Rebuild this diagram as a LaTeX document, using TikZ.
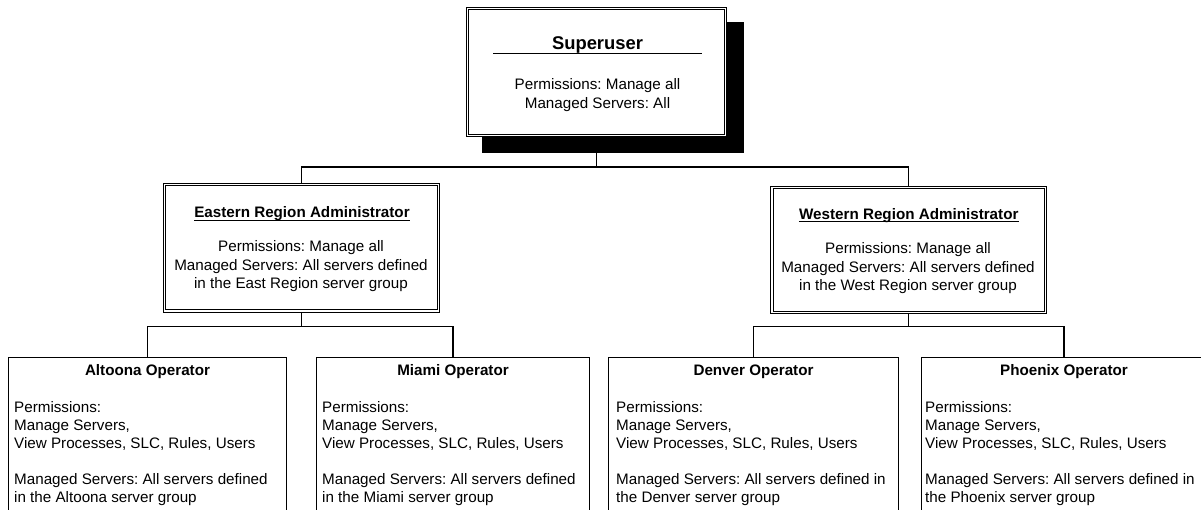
\documentclass[tikz,border=0pt]{standalone}
\usepackage{fontspec}
\setmainfont{Liberation Sans}
\frenchspacing
\begin{document}
\frenchspacing
\begin{tikzpicture}[x=1pt,y=-1pt,
  dbox/.style={draw, double, double distance=1.6pt, line width=0.8pt, fill=white, inner sep=0pt},
  shadowbox/.style={fill=black, draw=none, inner sep=0pt},
  opbox/.style={draw=none, inner sep=0pt},
  conn/.style={line width=1.2pt},
  side/.style={line width=0.9pt},
  uline/.style={line width=1pt},
  bigttl/.style={font=\fontsize{18.4}{22}\selectfont\bfseries, inner sep=0pt, anchor=base},
  ttl/.style={font=\fontsize{15.2}{19}\selectfont\bfseries, inner sep=0pt, anchor=base},
  body/.style={align=center, inner sep=0pt, anchor=north, font=\fontsize{15.2}{19}\selectfont},
  regbody/.style={align=center, inner sep=0pt, anchor=north, font=\fontsize{15.2}{18.5}\selectfont},
  opbody/.style={align=left, inner sep=0pt, anchor=north west, font=\fontsize{15.2}{17.9}\selectfont},
]
\useasboundingbox (0,0) rectangle (1201,510);

% superuser with shadow
\node[shadowbox, minimum width=262pt, minimum height=131pt] (sh) at (613,87.5) {};
\node[dbox, minimum width=258pt, minimum height=127pt] (su) at (596.5,72) {};
\node[bigttl] (sut) at (597.5,50) {Superuser};
\coordinate (suL) at (493,53.3);
\coordinate (suR) at (702,53.3);
\draw[uline] (suL) -- (suR);
\node[body] (sub) at (597.5,78.6) {Permissions: Manage all\\Managed Servers: All};

% region administrators
\node[dbox, minimum width=274pt, minimum height=126.5pt] (east) at (301.5,247.75) {};
\node[dbox, minimum width=273.5pt, minimum height=125pt] (west) at (908.75,250) {};

\node[ttl] (eastt) at (302,217.7) {Eastern Region Administrator};
\draw[uline] ([yshift=-2.5pt]eastt.base west) -- ([yshift=-2.5pt]eastt.base east);
\node[regbody] (eastb) at (301,240.6) {Permissions: Manage all\\Managed Servers: All servers defined\\in the East Region server group};

\node[ttl] (westt) at (908.8,219.5) {Western Region Administrator};
\draw[uline] ([yshift=-2.5pt]westt.base west) -- ([yshift=-2.5pt]westt.base east);
\node[regbody] (westb) at (908,242.4) {Permissions: Manage all\\Managed Servers: All servers defined\\in the West Region server group};

% operator boxes (open at the bottom edge)
\node[opbox, anchor=north, minimum width=277pt, minimum height=153pt] (alt) at (147.5,357) {};
\node[opbox, anchor=north, minimum width=272pt, minimum height=153pt] (mia) at (453,357) {};
\node[opbox, anchor=north, minimum width=289pt, minimum height=153pt] (den) at (753.5,357) {};
\node[opbox, anchor=north west, minimum width=280pt, minimum height=153pt] (pho) at (921,357) {};
\draw[side] (alt.south west) |- (alt.north east) -- (alt.south east);
\draw[side] (mia.south west) |- (mia.north east) -- (mia.south east);
\draw[side] (den.south west) |- (den.north east) -- (den.south east);
\draw[side] (pho.south west) |- (pho.north east);

\coordinate (rowT) at (0,375);
\coordinate (phx) at (1064,357);
\node[ttl] (altt) at (alt.north |- rowT) {Altoona Operator};
\node[ttl] (miat) at (mia.north |- rowT) {Miami Operator};
\node[ttl] (dent) at (den.north |- rowT) {Denver Operator};
\node[ttl] (phot) at (phx |- rowT) {Phoenix Operator};

\node[opbody] (altb) at (14,401.4) {Permissions:\\Manage Servers,\\View Processes, SLC, Rules, Users\\[17.9pt]Managed Servers: All servers defined\\in the Altoona server group};
\node[opbody] (miab) at (322,401.4) {Permissions:\\Manage Servers,\\View Processes, SLC, Rules, Users\\[17.9pt]Managed Servers: All servers defined\\in the Miami server group};
\node[opbody] (denb) at (616,401.4) {Permissions:\\Manage Servers,\\View Processes, SLC, Rules, Users\\[17.9pt]Managed Servers: All servers defined in\\the Denver server group};
\node[opbody] (phob) at (925,401.4) {Permissions:\\Manage Servers,\\View Processes, SLC, Rules, Users\\[17.9pt]Managed Servers: All servers defined in\\the Phoenix server group};

% connectors
\coordinate (bus0) at (0,167);
\coordinate (bus1) at (0,326.5);
\draw[conn] (sh.south -| su.south) |- (bus0 -| east.north) -- ([yshift=1.5pt]east.north);
\draw[conn] (sh.south -| su.south) |- (bus0 -| west.north) -- ([yshift=1.5pt]west.north);
\draw[conn] ([yshift=-1.5pt]east.south) |- (bus1 -| alt.north) -- (alt.north);
\draw[conn] ([yshift=-1.5pt]east.south) |- (bus1 -| mia.north) -- (mia.north);
\draw[conn] ([yshift=-1.5pt]west.south) |- (bus1 -| den.north) -- (den.north);
\draw[conn] ([yshift=-1.5pt]west.south) |- (bus1 -| phx) -- (phx);
\end{tikzpicture}
\end{document}
